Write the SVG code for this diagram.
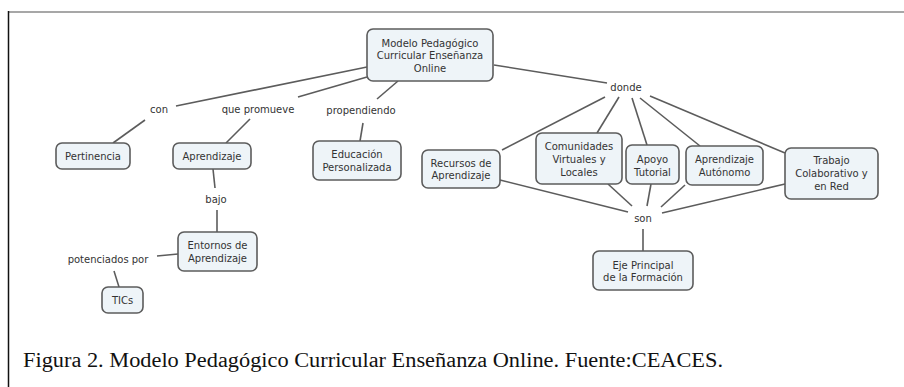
<svg xmlns="http://www.w3.org/2000/svg" width="904" height="387" viewBox="0 0 904 387">
<style>
.n rect{fill:#eef4f8;stroke:#5c5c5c;stroke-width:1.6}
.n text,.lbl{font-family:"DejaVu Sans",Verdana,sans-serif;font-size:10px;fill:#333;text-anchor:middle}
.c line{stroke:#5c5c5c;stroke-width:1.6}
.cap{font-family:"Liberation Serif","Times New Roman",serif;font-size:20.5px;fill:#111}
</style>
<rect x="0" y="0" width="904" height="387" fill="#fff"/>
<line x1="8" y1="12" x2="904" y2="12" stroke="#8a8a8a" stroke-width="1.5"/>
<line x1="8.5" y1="11" x2="8.5" y2="387" stroke="#111" stroke-width="1.5"/>
<g class="c" id="connectors">
<line x1="367" y1="67" x2="176" y2="106"/>
<line x1="145" y1="120" x2="113" y2="143"/>
<line x1="367" y1="77" x2="298" y2="97"/>
<line x1="250" y1="119" x2="226" y2="143"/>
<line x1="398" y1="81" x2="377" y2="99"/>
<line x1="363" y1="123" x2="360" y2="141"/>
<line x1="494" y1="65" x2="607" y2="83"/>
<line x1="605" y1="97" x2="502" y2="150"/>
<line x1="619" y1="97" x2="597" y2="133"/>
<line x1="632" y1="98" x2="647" y2="145"/>
<line x1="640" y1="98" x2="700" y2="146"/>
<line x1="650" y1="96" x2="785" y2="153"/>
<line x1="500" y1="180" x2="628" y2="212"/>
<line x1="608" y1="184" x2="632" y2="206"/>
<line x1="651" y1="184" x2="647" y2="206"/>
<line x1="685" y1="185" x2="661" y2="207"/>
<line x1="785" y1="184" x2="662" y2="213"/>
<line x1="643" y1="229" x2="643" y2="251"/>
<line x1="213" y1="169" x2="215" y2="188"/>
<line x1="217" y1="210" x2="217" y2="232"/>
<line x1="157" y1="256" x2="178" y2="254"/>
<line x1="114" y1="271" x2="119" y2="287"/>
</g>
<g id="labels">
<text class="lbl" x="159" y="112.5">con</text>
<text class="lbl" x="258" y="112.5">que promueve</text>
<text class="lbl" x="361" y="113.5">propendiendo</text>
<text class="lbl" x="626" y="90.5">donde</text>
<text class="lbl" x="216" y="202.5">bajo</text>
<text class="lbl" x="643" y="221.5">son</text>
<text class="lbl" x="108" y="262.5">potenciados por</text>
</g>
<g class="n" id="root">
<rect x="367" y="29" width="126" height="52" rx="6"/>
<text x="430" y="46.5">Modelo Pedagógico</text>
<text x="430" y="59">Curricular Enseñanza</text>
<text x="430" y="71.5">Online</text>
</g>
<g class="n" id="pertinencia">
<rect x="56" y="143" width="74" height="26" rx="6"/>
<text x="93" y="159.5">Pertinencia</text>
</g>
<g class="n" id="aprendizaje">
<rect x="173" y="143" width="78" height="26" rx="6"/>
<text x="212" y="159.5">Aprendizaje</text>
</g>
<g class="n" id="educacion">
<rect x="313" y="141" width="88" height="39" rx="6"/>
<text x="357" y="157.5">Educación</text>
<text x="357" y="170.5">Personalizada</text>
</g>
<g class="n" id="recursos">
<rect x="422" y="150" width="78" height="38" rx="6"/>
<text x="461" y="166.5">Recursos de</text>
<text x="461" y="178.5">Aprendizaje</text>
</g>
<g class="n" id="comunidades">
<rect x="536" y="133" width="86" height="51" rx="6"/>
<text x="579" y="149.5">Comunidades</text>
<text x="579" y="162.5">Virtuales y</text>
<text x="579" y="175.5">Locales</text>
</g>
<g class="n" id="apoyo">
<rect x="626" y="145" width="53" height="39" rx="6"/>
<text x="652.5" y="162.5">Apoyo</text>
<text x="652.5" y="175.5">Tutorial</text>
</g>
<g class="n" id="autonomo">
<rect x="686" y="146" width="77" height="39" rx="6"/>
<text x="724.5" y="162.5">Aprendizaje</text>
<text x="724.5" y="175.5">Autónomo</text>
</g>
<g class="n" id="trabajo">
<rect x="785" y="148" width="93" height="51" rx="6"/>
<text x="831.5" y="163.5">Trabajo</text>
<text x="831.5" y="176.5">Colaborativo y</text>
<text x="831.5" y="189.5">en Red</text>
</g>
<g class="n" id="eje">
<rect x="593" y="251" width="100" height="39" rx="6"/>
<text x="643" y="268.5">Eje Principal</text>
<text x="643" y="280.5">de la Formación</text>
</g>
<g class="n" id="entornos">
<rect x="178" y="232" width="79" height="39" rx="6"/>
<text x="217.5" y="248.5">Entornos de</text>
<text x="217.5" y="261.5">Aprendizaje</text>
</g>
<g class="n" id="tics">
<rect x="102" y="287" width="41" height="26" rx="6"/>
<text x="122.5" y="303.5">TICs</text>
</g>
<text class="cap" x="23" y="367" textLength="700" lengthAdjust="spacingAndGlyphs">Figura 2. Modelo Pedagógico Curricular Enseñanza Online. Fuente:CEACES.</text>
</svg>
